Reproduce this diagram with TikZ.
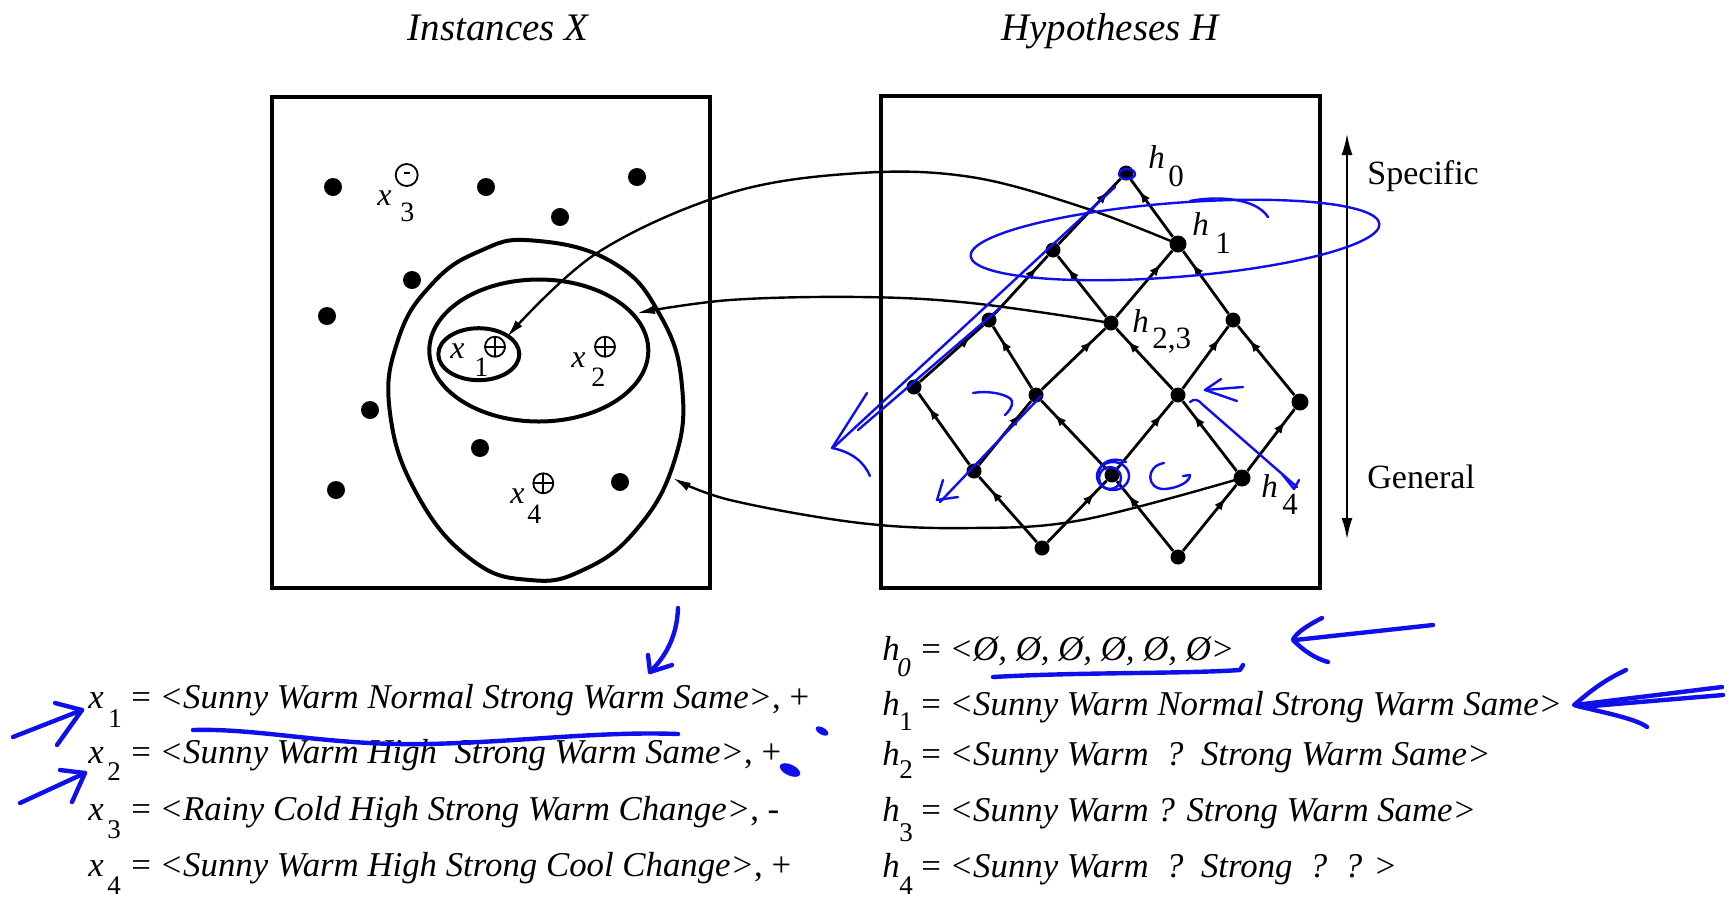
\documentclass[tikz,border=0pt]{standalone}
\usepackage{fontspec}
\setmainfont{Liberation Serif}
\usetikzlibrary{arrows.meta,decorations.markings,calc}
\definecolor{pen}{RGB}{15,15,235}
\newcommand\myfs[1]{\fontsize{#1}{#1}\selectfont}
\tikzset{
 dotL/.style={circle,fill=black,inner sep=0pt,minimum size=9pt},
 dotH/.style={circle,fill=black,inner sep=0pt,minimum size=7.5pt},
 edge/.style={line width=1.4pt,postaction={decorate},decoration={markings,mark=at position 0.8 with {\arrow{Latex[length=6pt,width=4.5pt]}}}},
 panel/.style={line width=2pt},
 setc/.style={line width=2pt},
 link/.style={line width=1.2pt,-{Latex[length=9pt,width=4.5pt]}},
 oplus/.style={circle,draw,line width=0.9pt,inner sep=0pt,minimum size=10pt,path picture={\draw[line width=0.9pt] (path picture bounding box.north) -- (path picture bounding box.south) (path picture bounding box.west) -- (path picture bounding box.east);}},
 ominus/.style={circle,draw,line width=0.9pt,inner sep=0pt,minimum size=11pt,path picture={\draw[line width=0.9pt] ([xshift=-1.5pt,yshift=1pt]path picture bounding box.center) -- ([xshift=1.5pt,yshift=1pt]path picture bounding box.center);}},
 ink/.style={draw=pen,line width=1.2pt,line cap=round,line join=round},
 inkb/.style={draw=pen,line width=2.2pt,line cap=round,line join=round},
 lbl/.style={inner sep=0pt,anchor=base west},
 big/.style={font=\myfs{17.4pt}},
 sub/.style={font=\myfs{13.5pt}},
}
\begin{document}
\begin{tikzpicture}[x=0.5pt,y=-0.5pt]
\useasboundingbox (0,0) rectangle (1729,902);
\fill[white] (0,0) rectangle (1729,902);

% titles
\node[inner sep=0pt,anchor=base] (tX) at (498,40) {\myfs{19.5pt}\itshape Instances X};
\node[inner sep=0pt,anchor=base] (tH) at (1110,40) {\myfs{19.5pt}\itshape Hypotheses H};

% panels
\draw[panel] (272,97) rectangle (710,588);
\draw[panel] (881,96) rectangle (1320,588);

% left panel dots
\foreach \n/\p in {p1/{(333,187)},p2/{(486,187)},p3/{(637,177)},p4/{(560,217)},p5/{(412,280)},p6/{(327,316)},p7/{(370,410)},p8/{(480,448)},p9/{(620,482)},p10/{(336,490)}}
  \node[dotL] (\n) at \p {};

% sets
\draw[setc] plot[smooth cycle,tension=0.75] coordinates {(533,240.5) (612,262) (660,315) (682,386) (674,462) (636,530) (583,570) (530,580) (472,560) (418,496) (390,413) (398,340) (432,284) (480,251)};
\draw[setc] (538.8,350.5) ellipse [x radius=109.5,y radius=71];
\draw[setc] (478.8,354.2) ellipse [x radius=40.5,y radius=26];

% instance labels
\node[lbl] (x3l) at (377,205) {\myfs{16pt}\itshape x};
\node[lbl] (x3s) at (400,221) {\myfs{14pt}3};
\node[ominus] (x3m) at (406.7,175) {};
\node[lbl] (x1l) at (450,358) {\myfs{16pt}\itshape x};
\node[lbl] (x1s) at (474,376) {\myfs{14pt}1};
\node[oplus] (x1p) at (495,346.7) {};
\node[lbl] (x2l) at (571,367) {\myfs{16pt}\itshape x};
\node[lbl] (x2s) at (591,386) {\myfs{14pt}2};
\node[oplus] (x2p) at (605,346.7) {};
\node[lbl] (x4l) at (510,503) {\myfs{16pt}\itshape x};
\node[lbl] (x4s) at (527,523) {\myfs{14pt}4};
\node[oplus] (x4p) at (543.3,483.3) {};

% lattice nodes
\node[dotH] (h0) at (1126,173) {};
\node[dotH] (a1) at (1053,250) {};
\node[dotH,minimum size=8.5pt] (h1) at (1178,244) {};
\node[dotH] (a2) at (989,320) {};
\node[dotH] (h23) at (1111,323) {};
\node[dotH] (a3) at (1233,320) {};
\node[dotH] (b1) at (914,387) {};
\node[dotH] (b2) at (1036,395) {};
\node[dotH] (b3) at (1178,395) {};
\node[dotH,minimum size=8.5pt] (b4) at (1300,402) {};
\node[dotH] (c1) at (974,471) {};
\node[dotH] (c2) at (1112,475) {};
\node[dotH,minimum size=8.5pt] (h4) at (1242,478) {};
\node[dotH] (d1) at (1042,548) {};
\node[dotH] (d2) at (1178,557) {};

\foreach \s/\t in {a1/h0,h1/h0,a2/a1,h23/a1,h23/h1,a3/h1,b1/a2,b2/a2,b2/h23,b3/h23,b3/a3,b4/a3,c1/b1,c1/b2,c2/b2,c2/b3,h4/b3,h4/b4,d1/c1,d1/c2,d2/c2,d2/h4}
  \draw[edge] (\s) -- (\t);

% lattice labels
\node[lbl] (h0l) at (1148,168) {\myfs{16.5pt}\itshape h};
\node[lbl] (h0s) at (1168,186) {\myfs{15.5pt}0};
\node[lbl] (h1l) at (1192,235) {\myfs{16.5pt}\itshape h};
\node[lbl] (h1s) at (1215,253) {\myfs{15.5pt}1};
\node[lbl] (h23l) at (1132,332) {\myfs{16.5pt}\itshape h};
\node[lbl] (h23s) at (1152,348) {\myfs{15.5pt}2,3};
\node[lbl] (h4l) at (1261,497) {\myfs{16.5pt}\itshape h};
\node[lbl] (h4s) at (1282,514) {\myfs{15.5pt}4};

% mapping curves
\coordinate (x1e) at (507,337);
\coordinate (e2) at (637,313);
\coordinate (e3) at (673,478);
\draw[link] plot[smooth,tension=0.6] coordinates {(h1) (1082,207) (971,177) (860,173) (730,193) (597,253) (x1e)};
\draw[link] plot[smooth,tension=0.6] coordinates {(h23) (971,303) (860,297) (730,300) (e2)};
\draw[link] plot[smooth,tension=0.6] coordinates {(h4) (1082,520) (971,528) (860,523) (730,500) (e3)};

% specific / general
\coordinate (sp) at (1347,133);
\coordinate (gn) at (1347,540);
\draw[line width=1.4pt,{Latex[length=11pt,width=5.5pt]}-{Latex[length=11pt,width=5.5pt]}] (sp) -- (gn);
\node[lbl] (spec) at (1367,184) {\myfs{17pt}Specific};
\node[lbl] (gen) at (1367,488) {\myfs{17pt}General};

% bottom: instances
\node[lbl,big] (r1a) at (88,708) {\itshape x};
\node[lbl,sub] (r1b) at (108,727) {1};
\node[lbl,big] (r1c) at (131,708) {= \textit{<Sunny Warm Normal Strong Warm Same>}, +};
\node[lbl,big] (r2a) at (88,763) {\itshape x};
\node[lbl,sub] (r2b) at (107,780) {2};
\node[lbl,big] (r2c) at (131,763) {= \textit{<Sunny Warm High\ \ Strong Warm Same>}, +};
\node[lbl,big] (r3a) at (88,820) {\itshape x};
\node[lbl,sub] (r3b) at (107,838) {3};
\node[lbl,big] (r3c) at (131,820) {= \textit{<Rainy Cold High Strong Warm Change>}, -};
\node[lbl,big] (r4a) at (88,876) {\itshape x};
\node[lbl,sub] (r4b) at (107,894) {4};
\node[lbl,big] (r4c) at (131,876) {= \textit{<Sunny Warm High Strong Cool Change>}, +};

% bottom: hypotheses
\node[lbl,big] (q0a) at (882,660) {\itshape h};
\node[lbl,sub] (q0b) at (897,676) {\itshape 0};
\node[lbl,big] (q0c) at (921,660) {= \textit{<Ø, Ø, Ø, Ø, Ø, Ø>}};
\node[lbl,big] (q1a) at (882,715) {\itshape h};
\node[lbl,sub] (q1b) at (899,730) {1};
\node[lbl,big] (q1c) at (921,715) {= \textit{<Sunny Warm Normal Strong Warm Same>}};
\node[lbl,big] (q2a) at (882,765) {\itshape h};
\node[lbl,sub] (q2b) at (899,778) {2};
\node[lbl,big] (q2c) at (921,765) {= \textit{<Sunny Warm\ \ ?\ \ Strong Warm Same>}};
\node[lbl,big] (q3a) at (882,821) {\itshape h};
\node[lbl,sub] (q3b) at (899,841) {3};
\node[lbl,big] (q3c) at (921,821) {= \textit{<Sunny Warm ? Strong Warm Same>}};
\node[lbl,big] (q4a) at (882,877) {\itshape h};
\node[lbl,sub] (q4b) at (899,894) {4};
\node[lbl,big] (q4c) at (921,877) {= \textit{<Sunny Warm\ \ ?\ \ Strong\ \ ?\ \ ? >}};

% blue annotations
\draw[ink,rotate around={4.5:(1175,240)}] (1175,240) ellipse [x radius=205,y radius=37];
\draw[ink] (1190,201) .. controls (1215,196) and (1255,197) .. (1268,217);
\draw[ink] (1127,174) ellipse [x radius=8,y radius=5];
\draw[ink] (1115,187) -- (834,447);
\draw[ink] (1000,308) -- (858,430);
\draw[ink] (867,393) -- (832,448) .. controls (852,452) and (864,462) .. (870,476);
\draw[ink] (973,393) .. controls (990,390) and (1010,395) .. (1012,401) .. controls (1013,407) and (1008,412) .. (1005,415);
\draw[ink] (1041,396) -- (940,502);
\draw[ink] (943,480) -- (937,500) -- (958,497);
\draw[ink] (1113,476) ellipse [x radius=16,y radius=14];
\draw[ink] (1110,478) ellipse [x radius=11,y radius=11];
\draw[ink] (1126,462) .. controls (1112,456) and (1100,462) .. (1098,474);
\draw[ink] (1164,463) .. controls (1145,466) and (1146,490) .. (1165,489) .. controls (1178,488) and (1190,482) .. (1190,475) -- (1183,476);
\draw[ink] (1221,379) -- (1205,390) -- (1237,401);
\draw[ink] (1205,390) -- (1243,387);
\draw[ink] (1190,402) .. controls (1194,398) and (1199,400) .. (1202,404) -- (1297,487);
\draw[ink] (1282,474) -- (1294,489) -- (1299,480);
\draw[inkb] (1433,625) -- (1295,640);
\draw[inkb] (1322,618) .. controls (1302,628) and (1294,636) .. (1293,640) .. controls (1303,650) and (1314,658) .. (1328,662);
\draw[inkb] (1722,687) -- (1575,705);
\draw[inkb] (1723,695) -- (1580,707);
\draw[inkb] (1626,670) .. controls (1600,682) and (1585,696) .. (1574,705) .. controls (1600,712) and (1635,718) .. (1647,727);
\draw[inkb] (993,677) .. controls (1080,672) and (1180,674) .. (1240,670) -- (1243,665);
\draw[inkb] (678,608) .. controls (677,635) and (667,655) .. (650,672);
\draw[inkb] (648,655) -- (650,672) -- (672,665);
\draw[inkb] (193,730) .. controls (260,728) and (330,746) .. (427,744) .. controls (520,742) and (600,731) .. (678,734);
\draw[inkb] (13,737) -- (82,710);
\draw[inkb] (55,703) -- (82,710) -- (57,745);
\draw[inkb] (20,803) -- (85,773);
\draw[inkb] (60,770) -- (85,773) -- (72,802);
\fill[pen,rotate around={-30:(822,731)}] (822,731) ellipse [x radius=7,y radius=3.5];
\fill[pen,rotate around={-25:(790,770)}] (790,770) ellipse [x radius=11,y radius=5.5];
\end{tikzpicture}
\end{document}
